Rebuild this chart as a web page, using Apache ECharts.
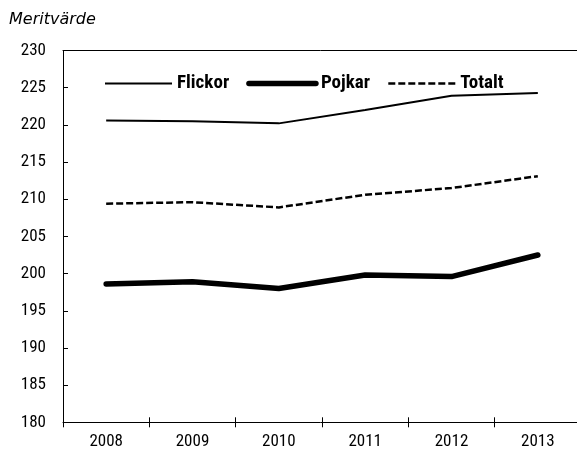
<!DOCTYPE html>
<html><head><meta charset="utf-8">
<script src="https://cdn.jsdelivr.net/npm/echarts@6/dist/echarts.min.js"></script>
<style>html,body{margin:0;padding:0;background:#fff;overflow:hidden}#c{width:577px;height:455px}</style>
</head><body><div id="c"></div>
<script>
const years = ['2008','2009','2010','2011','2012','2013'];
const flickor = [220.6, 220.5, 220.2, 222.0, 223.9, 224.3];
const pojkar = [198.6, 198.9, 198.0, 199.8, 199.6, 202.5];
const totalt = [209.4, 209.6, 208.9, 210.6, 211.5, 213.1];
const yTicks = {min: 180, max: 230, step: 5};
const titleText = 'Meritvärde';

const narrow = '"Roboto Condensed", "Liberation Sans", sans-serif';
const styles = {
  Flickor: {color: '#000', width: 2},
  Pojkar: {color: '#000', width: 5.5, cap: 'round', join: 'round'},
  Totalt: {color: '#000', width: 2.5, type: [7, 3]}
};
const chart = echarts.init(document.getElementById('c'), null, {renderer: 'canvas'});
chart.setOption({
  animation: false,
  backgroundColor: '#fff',
  title: {text: titleText, left: 9, top: 12, padding: 0,
    textStyle: {fontFamily: '"DejaVu Sans", sans-serif', fontStyle: 'italic', fontWeight: 'normal', fontSize: 16, color: '#000'}},
  grid: {left: 63, top: 50.5, right: -4, bottom: 32.7, outerBoundsMode: 'none', containLabel: false, show: false},
  legend: {left: 104, top: 74, padding: 0, itemWidth: 67, itemHeight: 14, itemGap: 17,
    itemStyle: {opacity: 0},
    textStyle: {fontFamily: narrow, fontWeight: 'bold', fontSize: 19, color: '#000'},
    data: ['Flickor','Pojkar','Totalt'].map(n => ({name: n, lineStyle: styles[n]}))},
  xAxis: [
    {type: 'category', data: years, boundaryGap: true, position: 'bottom',
     axisLine: {lineStyle: {color: '#000', width: 1}},
     axisTick: {show: true, inside: false, length: 5, lineStyle: {color: '#000'}},
     splitLine: {show: false},
     axisLabel: {fontFamily: narrow, fontSize: 17, color: '#000', margin: 11}},
    {type: 'category', data: years, boundaryGap: true, position: 'bottom',
     axisLine: {show: false}, splitLine: {show: false},
     axisTick: {show: true, inside: true, length: 5, lineStyle: {color: '#000'}},
     axisLabel: {show: false}},
    {type: 'category', data: years, boundaryGap: true, position: 'top',
     axisLine: {show: true, lineStyle: {color: '#000', width: 1}}, splitLine: {show: false},
     axisTick: {show: false}, axisLabel: {show: false}}
  ],
  yAxis: {type: 'value', min: yTicks.min, max: yTicks.max, interval: yTicks.step,
    axisLine: {show: true, lineStyle: {color: '#000', width: 1}},
    axisTick: {show: true, inside: true, length: 5, lineStyle: {color: '#000'}},
    splitLine: {show: false},
    axisLabel: {fontFamily: narrow, fontSize: 17, color: '#000', margin: 17}},
  series: [
    {name: 'Flickor', type: 'line', data: flickor, symbol: 'none', lineStyle: styles.Flickor, itemStyle: {color: '#000'}},
    {name: 'Pojkar', type: 'line', data: pojkar, symbol: 'none', lineStyle: styles.Pojkar, itemStyle: {color: '#000'}},
    {name: 'Totalt', type: 'line', data: totalt, symbol: 'none', lineStyle: styles.Totalt, itemStyle: {color: '#000'}}
  ]
});
</script></body></html>
